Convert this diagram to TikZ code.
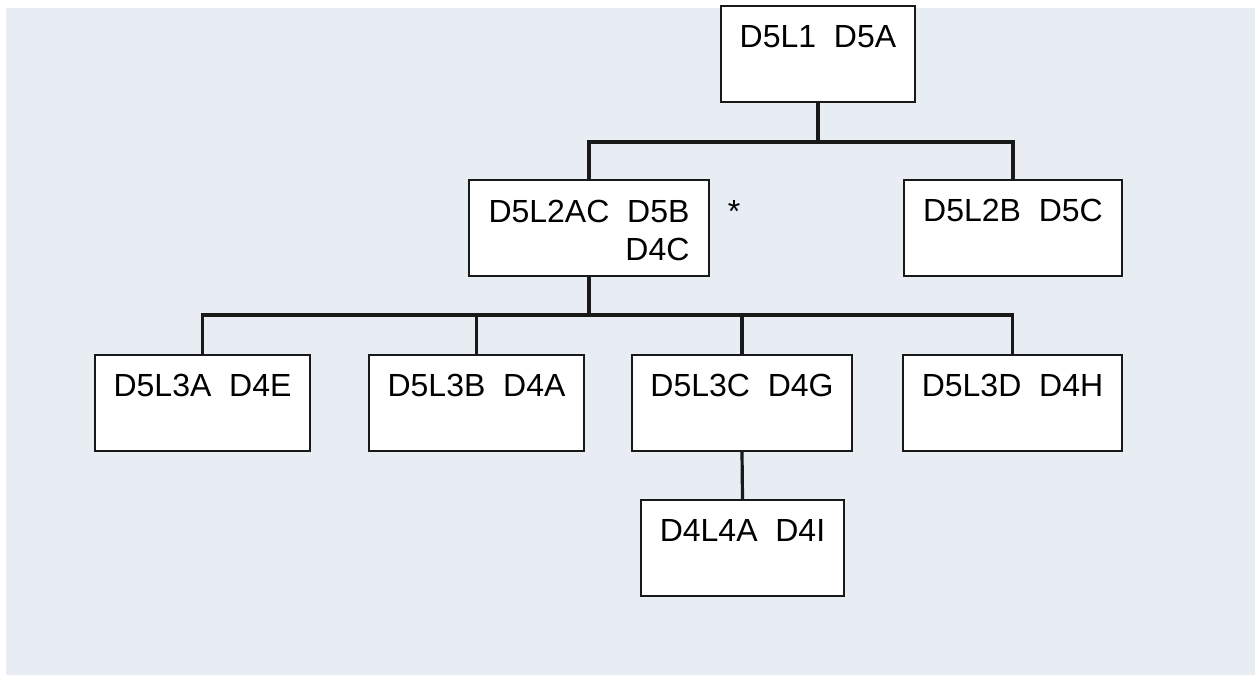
\documentclass[tikz,border=0pt]{standalone}
\usepackage{fontspec}
\setmainfont{Liberation Sans}
\usepackage{tikz}
\usetikzlibrary{positioning}

\definecolor{panel}{RGB}{232,236,243}
\definecolor{ink}{RGB}{25,25,25}

\begin{document}
\begin{tikzpicture}[
            x = 1pt, y = -1pt, % one unit per pixel, y going down
            draw = ink,
            line width = 3.2pt, % connector width
            line cap = rect,
            every node/.style = {font = \fontsize{32}{38}\selectfont}
        ]
        \tikzstyle{block}=[
            draw = ink,
            line width = 2pt,
            fill = white,
            inner sep = 0pt,
            text height = 41pt,
            text depth = 55pt
        ]
        % background
        \useasboundingbox (0,0) rectangle (1255,675);
        \fill[white] (0,0) rectangle (1255,675);
        \fill[panel] (6,8) rectangle (1255,675);

        \coordinate (bus1) at (0,142);
        \coordinate (bus2) at (0,315);

        \node[block, minimum width=194pt] (D5L1) at (818,54) {D5L1~~D5A};

        \node[block, minimum width=240pt, align=right, text height=80pt, text depth=16pt]
            (D5L2AC) at (589,228) {D5L2AC~~D5B\\D4C};
        \node[anchor=base] (star) at (734,222) {*};
        \node[block, minimum width=218pt] (D5L2B) at (1013,228) {D5L2B~~D5C};

        \node[block, minimum width=215pt] (D5L3A) at (202.5,403) {D5L3A~~D4E};
        \node[block, minimum width=215pt] (D5L3B) at (476.5,403) {D5L3B~~D4A};
        \node[block, minimum width=220pt] (D5L3C) at (742,403) {D5L3C~~D4G};
        \node[block, minimum width=219pt] (D5L3D) at (1012.5,403) {D5L3D~~D4H};

        \node[block, minimum width=203pt] (D4L4A) at (742.5,548) {D4L4A~~D4I};

        \draw (D5L1.south) -- (D5L1.south |- bus1);
        \draw (D5L2AC.north) |- (D5L2B.north |- bus1) -- (D5L2B.north);

        \draw (D5L2AC.south) -- (D5L2AC.south |- bus2);
        \draw (D5L3A.north) |- (D5L3D.north |- bus2) -- (D5L3D.north);
        \draw (D5L3B.north) -- (D5L3B.north |- bus2);
        \draw (D5L3C.north) -- (D5L3C.north |- bus2);

        \draw (D5L3C.south) -- (D4L4A.north);
    \end{tikzpicture}
\end{document}
